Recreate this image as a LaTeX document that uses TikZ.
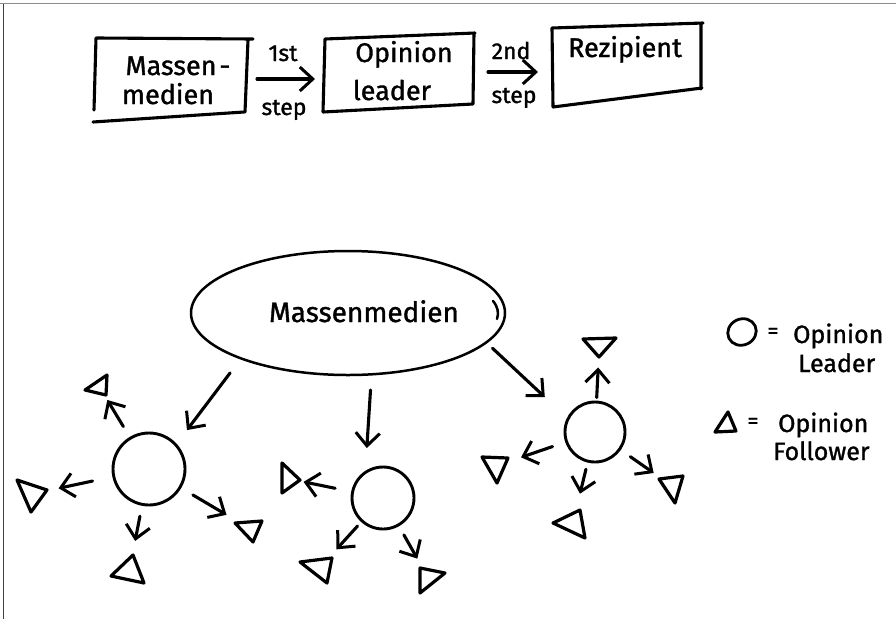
\documentclass[tikz,border=0pt]{standalone}
\usepackage{fontspec}
\setmainfont{Fira Sans}[FakeBold=1.2]
\usetikzlibrary{arrows.meta,shapes.geometric}

\begin{document}
\begin{tikzpicture}[x=1pt,y=-1pt,
  ink/.style={line width=3.1pt, line cap=round, line join=round},
  arr/.style={ink, -{Straight Barb[length=13pt,width=24pt,line width=3pt]}},
  tri/.style={ink, line width=3.2pt},
  leader/.style={circle, draw, ink, line width=2.9pt, minimum size=#1, inner sep=0pt, outer sep=0pt},
  boxarea/.style={rectangle, inner sep=0pt, outer sep=0pt},
  boxtxt/.style={font=\fontsize{27}{32}\selectfont, inner sep=0pt, anchor=base},
  steptxt/.style={font=\fontsize{23}{26}\selectfont, inner sep=0pt, anchor=base},
  legtxt/.style={font=\fontsize{25}{30}\selectfont, inner sep=0pt, anchor=base west},
  eqtxt/.style={font=\fontsize{22}{24}\selectfont, inner sep=0pt},
]
\useasboundingbox (0,0) rectangle (896,619);
\fill[white] (0,0) rectangle (896,619);

% sheet edges
\draw[line width=1.4pt, black!45] (0,3.5) -- (896,3.5);
\draw[line width=1pt, black!75] (3.5,3.5) -- (3.5,619);

% ---- two-step flow: boxes ----
\node[boxarea, minimum width=152pt, minimum height=78pt] (b1) at (171,79) {};
\node[boxarea, minimum width=150pt, minimum height=74pt] (b2) at (399,72) {};
\node[boxarea, minimum width=150pt, minimum height=80pt] (b3) at (627,66) {};

\draw[ink] (97,38) -- (253,39) (248,40) -- (245,112) (93,122) -- (244,112) (96,38) -- (94,110);
\draw[ink] (325,39) -- (475,33) (474,33) -- (473,104) (323,112) -- (473,104) (325,39) -- (323,112);
\draw[ink] (552,28) -- (703,23) (701,24) -- (701,89) (553,107) -- (702,88) (552,28) -- (553,107);

\node[boxtxt] (t1a) at (178,75) {Massen\kern3pt-};
\node[boxtxt] (t1b) at (168,104) {medien};
\node[boxtxt] (t2a) at (404,62) {Opinion};
\node[boxtxt] (t2b) at (392,100) {leader};
\node[boxtxt] (t3) at (625,57) {Rezipient};

\draw[arr, shorten <=10pt, shorten >=9pt] (b1.east) -- (b1.east -| b2.west);
\draw[arr, shorten <=14pt, shorten >=14pt] (b2.east) -- (b2.east -| b3.west);

\node[steptxt] (s1a) at (283,61) {1st};
\node[steptxt] (s1b) at (284,115) {step};
\node[steptxt] (s2a) at (511,59) {2nd};
\node[steptxt] (s2b) at (514,103) {step};

% ---- mass media and opinion leaders ----
\node[draw, ellipse, line width=2.5pt, minimum width=314pt, minimum height=124pt,
      inner sep=0pt, outer sep=0pt] (mm) at (348,313) {};
\draw[line width=2.5pt, line cap=round] (493,301) .. controls (498,307) and (499,313) .. (497,319);
\node[font=\fontsize{28}{32}\selectfont, inner sep=0pt, anchor=base] (mmt) at (364,322) {Massenmedien};

\node[leader=72pt] (L1) at (149,469) {};
\node[leader=62pt] (L2) at (383,498) {};
\node[leader=60pt] (L3) at (595,432) {};

\draw[arr, shorten <=18.2pt, shorten >=18.6pt] (mm.203) -- (L1.42);
\draw[arr, shorten <=15.7pt, shorten >=24.6pt] (mm.291.5) -- (L2.125);
\draw[arr, shorten <=8.6pt, shorten >=31.8pt] (mm.348.2) -- (L3.154);

% ---- opinion followers ----
\coordinate (F1a) at (99.3,386.7);
\coordinate (F1b) at (31.7,494);
\coordinate (F1c) at (129.3,571.3);
\coordinate (F1d) at (250,528.7);
\coordinate (F2a) at (288,478.7);
\coordinate (F2b) at (319.7,567.7);
\coordinate (F2c) at (428.3,578);
\coordinate (F3a) at (599.3,344.7);
\coordinate (F3b) at (495.7,466);
\coordinate (F3c) at (572.7,523.7);
\coordinate (F3d) at (672.3,486);

\draw[tri] (107,375) -- (106,395) -- (85,390) -- cycle;
\draw[tri] (17,480) -- (47,490) -- (31,512) -- cycle;
\draw[tri] (133,555) -- (111,576) -- (144,583) -- cycle;
\draw[tri] (235,523) -- (262,521) -- (253,542) -- cycle;
\draw[tri] (282,463) -- (300,480) -- (282,493) -- cycle;
\draw[tri] (300,562) -- (332,558) -- (327,583) -- cycle;
\draw[tri] (420,568) -- (445,573) -- (420,593) -- cycle;
\draw[tri] (583,339) -- (616,338) -- (599,357) -- cycle;
\draw[tri] (482,457) -- (508,458) -- (497,483) -- cycle;
\draw[tri] (580,510) -- (553,523) -- (585,538) -- cycle;
\draw[tri] (659,479) -- (683,476) -- (675,503) -- cycle;

\draw[arr, shorten <=13.6pt, shorten >=15.5pt] (L1) -- (F1a);
\draw[arr, shorten <=21.7pt, shorten >=27.5pt] (L1) -- (F1b);
\draw[arr, shorten <=12pt, shorten >=30.9pt] (L1) -- (F1c);
\draw[arr, shorten <=15pt, shorten >=27.3pt] (L1) -- (F1d);

\draw[arr, shorten <=17.8pt, shorten >=15.9pt] (L2) -- (F2a);
\draw[arr, shorten <=6.8pt, shorten >=24.8pt] (L2) -- (F2b);
\draw[arr, shorten <=11.4pt, shorten >=22.3pt] (L2) -- (F2c);

\draw[arr, shorten <=4.5pt, shorten >=22.8pt] (L3) -- (F3a);
\draw[arr, shorten <=14.9pt, shorten >=26.8pt] (L3) -- (F3b);
\draw[arr, shorten <=8.3pt, shorten >=30.9pt] (L3) -- (F3c);
\draw[arr, shorten <=13.1pt, shorten >=22.7pt] (L3) -- (F3d);

% ---- legend ----
\node[draw, ellipse, ink, line width=2.8pt, minimum width=29pt, minimum height=26pt,
      inner sep=0pt, rotate=25] (legL) at (742,332) {};
\node[eqtxt] (eq1) at (773,333) {=};
\node[legtxt] (lg1a) at (793,343) {Opinion};
\node[legtxt] (lg1b) at (798,372) {Leader};

\draw[tri] (728,412) -- (715,432) -- (736,431) -- cycle;
\node[eqtxt] (eq2) at (753,423) {=};
\node[legtxt] (lg2a) at (778,432) {Opinion};
\node[legtxt] (lg2b) at (773,460) {Follower};
\end{tikzpicture}
\end{document}
